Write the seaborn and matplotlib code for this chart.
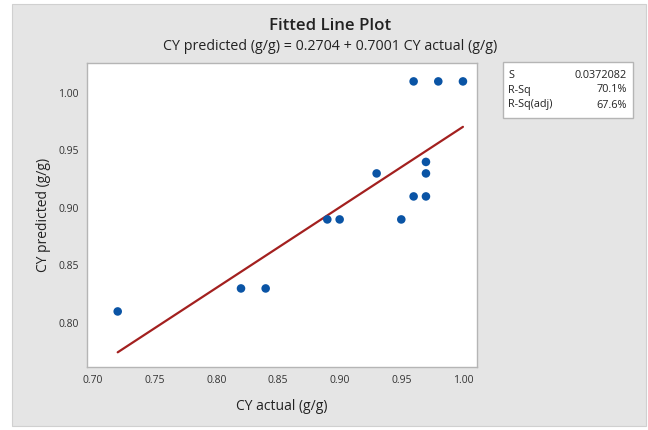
import matplotlib
matplotlib.use("Agg")
import matplotlib.pyplot as plt
from matplotlib.patches import Rectangle
import seaborn as sns
import pandas as pd
import numpy as np

# Data
cy_actual = [0.72, 0.82, 0.84, 0.89, 0.90, 0.93, 0.95, 0.96, 0.97, 0.97, 0.97, 0.96, 0.98, 1.00]
cy_predicted = [0.81, 0.83, 0.83, 0.89, 0.89, 0.93, 0.89, 0.91, 0.91, 0.93, 0.94, 1.01, 1.01, 1.01]
intercept = 0.2704
slope = 0.7001
x_ticks = [0.70, 0.75, 0.80, 0.85, 0.90, 0.95, 1.00]
y_ticks = [0.80, 0.85, 0.90, 0.95, 1.00]
stat_names = ["S", "R-Sq", "R-Sq(adj)"]
stat_values = ["0.0372082", "70.1%", "67.6%"]

sns.set_style("white")
plt.rcParams['font.family'] = ['Open Sans', 'DejaVu Sans']

df = pd.DataFrame({"actual": cy_actual, "predicted": cy_predicted})
x_line = np.array([min(cy_actual), max(cy_actual)])
line_df = pd.DataFrame({"x": x_line, "y": intercept + slope * x_line})

fig = plt.figure(figsize=(6.48, 4.30), dpi=100, facecolor="white")
W, H = 648, 430
fig.patches.append(Rectangle((12 / W, 4 / H), (646 - 12) / W, (426 - 4) / H,
                             transform=fig.transFigure, facecolor="#e5e5e5",
                             edgecolor="#d0d0d0", linewidth=0.8, zorder=-10))

ax = fig.add_axes([87 / W, (430 - 367) / H, 390 / W, 304 / H])
ax.set_zorder(1)
ax.set_facecolor("white")
sns.lineplot(data=line_df, x="x", y="y", ax=ax, color="#a3201f", linewidth=1.6)
sns.scatterplot(data=df, x="actual", y="predicted", ax=ax, color="#0a54a5",
                s=38, edgecolor="none", zorder=3)

ax.set_xlim(0.6951, 1.0114)
ax.set_ylim(0.7617, 1.026)
ax.set_xticks(x_ticks)
ax.set_yticks(y_ticks)
ax.set_xticklabels([f"{t:.2f}" for t in x_ticks], fontsize=7.5, color="#333333")
ax.set_yticklabels([f"{t:.2f}" for t in y_ticks], fontsize=7.5, color="#333333")
ax.tick_params(axis="both", direction="out", length=3, width=0.8, color="#a0a0a0", pad=3)
for sp in ax.spines.values():
    sp.set_color("#b5b5b5")
    sp.set_linewidth(1.0)
ax.set_xlabel("CY actual (g/g)", fontsize=10, color="#222222", labelpad=9)
ax.set_ylabel("CY predicted (g/g)", fontsize=10, color="#222222", labelpad=5)

fig.text(330 / W, 1 - 26 / H, "Fitted Line Plot", ha="center", va="center",
         fontsize=12.2, color="#222222", fontweight="semibold")
fig.text(330 / W, 1 - 46 / H, "CY predicted (g/g) = 0.2704 + 0.7001 CY actual (g/g)",
         ha="center", va="center", fontsize=10.3, color="#222222")

# Stats box
fig.patches.append(Rectangle((503 / W, 1 - 118 / H), 130 / W, 56 / H,
                             transform=fig.transFigure, facecolor="white",
                             edgecolor="#b5b5b5", linewidth=1.0, zorder=1))
for i, (n, v) in enumerate(zip(stat_names, stat_values)):
    yy = 1 - (75 + i * 15) / H
    fig.text(508 / W, yy, n, ha="left", va="center", fontsize=7.8, color="#222222", zorder=2)
    fig.text(627 / W, yy, v, ha="right", va="center", fontsize=7.8, color="#222222", zorder=2)

fig.savefig("out.png", dpi=100, facecolor="white")
